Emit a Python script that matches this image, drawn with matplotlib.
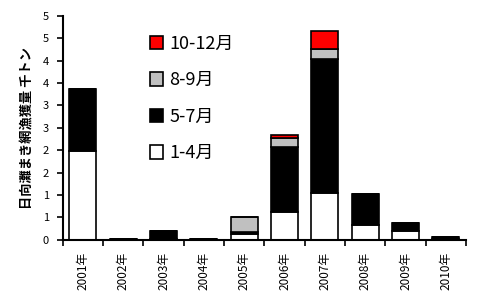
import matplotlib
matplotlib.use('Agg')
import matplotlib.pyplot as plt
import numpy as np

plt.rcParams['font.family'] = ['Noto Sans CJK JP', 'DejaVu Sans']

years = ['2001年', '2002年', '2003年', '2004年', '2005年',
         '2006年', '2007年', '2008年', '2009年', '2010年']
# 千トン
jan_apr = [1.98, 0.005, 0.01, 0.01, 0.13, 0.62, 1.04, 0.32, 0.20, 0.01]
may_jul = [1.39, 0.005, 0.18, 0.01, 0.05, 1.45, 2.99, 0.71, 0.18, 0.04]
aug_sep = [0.00, 0.00, 0.00, 0.00, 0.32, 0.20, 0.23, 0.00, 0.00, 0.00]
oct_dec = [0.00, 0.00, 0.00, 0.00, 0.00, 0.07, 0.40, 0.00, 0.00, 0.00]

series = [
    ('1-4月', jan_apr, 'white'),
    ('5-7月', may_jul, 'black'),
    ('8-9月', aug_sep, '#c0c0c0'),
    ('10-12月', oct_dec, '#ff0000'),
]

fig = plt.figure(figsize=(4.83, 3.01), dpi=100)
ax = fig.add_axes([0.130, 0.204, 0.835, 0.743])

x = np.arange(len(years))
bottom = np.zeros(len(years))
handles = []
for label, vals, color in series:
    vals = np.array(vals)
    b = ax.bar(x, vals, width=0.67, bottom=bottom, color=color,
               edgecolor='black', linewidth=1.2, label=label)
    handles.append(b)
    bottom += vals

ax.set_xlim(-0.5, len(years) - 0.5)
ax.set_ylim(0, 5)

yt = np.arange(0, 5.01, 0.5)
ax.set_yticks(yt)
ax.set_yticklabels([str(int(np.floor(v + 0.5))) for v in yt], fontsize=8)

ax.set_xticks(x)
ax.set_xticklabels(years, rotation=90, fontsize=8.5)
ax.set_xticks(np.arange(-0.5, len(years)), minor=True)
ax.tick_params(axis='x', which='major', length=0, pad=9)
ax.tick_params(axis='x', which='minor', length=4, width=1.2, direction='out')
ax.tick_params(axis='y', length=4, width=1.2, direction='out', pad=6)

for s in ['top', 'right']:
    ax.spines[s].set_visible(False)
for s in ['left', 'bottom']:
    ax.spines[s].set_linewidth(1.5)

ax.set_ylabel('日向灘まき網漁獲量 千トン', fontsize=9.5, fontweight='bold', labelpad=6)

ax.legend(handles[::-1], [s[0] for s in series][::-1], loc='upper left',
          bbox_to_anchor=(0.215, 0.915), frameon=False, fontsize=13,
          handlelength=0.75, handleheight=0.75, handletextpad=0.35,
          labelspacing=1.02, borderpad=0, borderaxespad=0)

fig.savefig('out.png', dpi=100)
